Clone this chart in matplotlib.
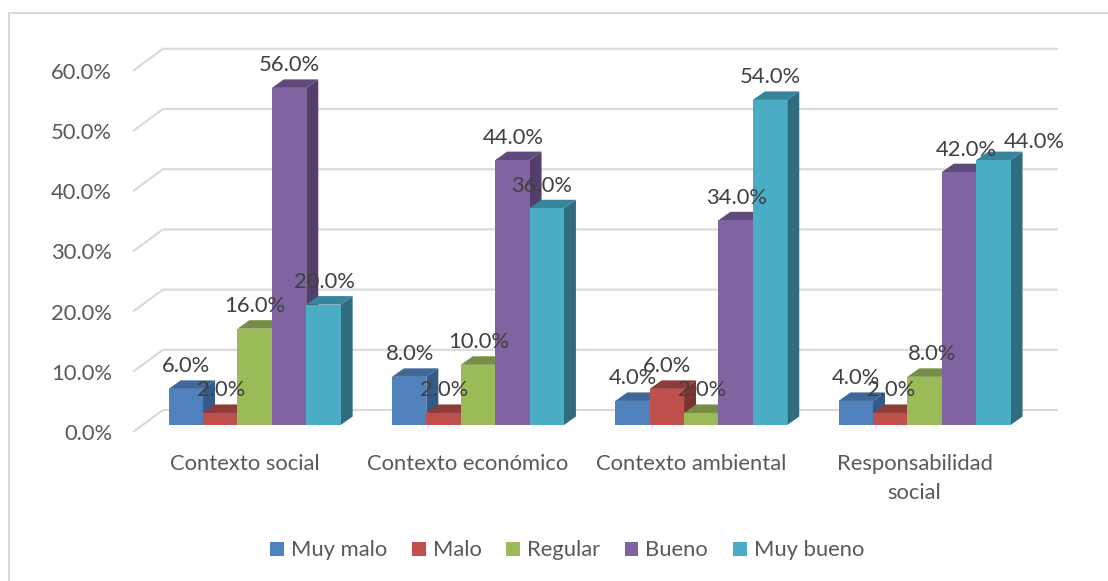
import numpy as np
import matplotlib
matplotlib.use('Agg')
import matplotlib.pyplot as plt
from matplotlib.lines import Line2D

# values (percent)
categories = ['Contexto social', 'Contexto económico', 'Contexto ambiental', 'Responsabilidad\nsocial']
series_names = ['Muy malo', 'Malo', 'Regular', 'Bueno', 'Muy bueno']
muy_malo = [6, 8, 4, 4]
malo = [2, 2, 6, 2]
regular = [16, 10, 2, 8]
bueno = [56, 44, 34, 42]
muy_bueno = [20, 36, 54, 44]
y_ticks = [0, 10, 20, 30, 40, 50, 60]

front_colors = ['#4f81bd', '#c0504d', '#9bbb59', '#8064a2', '#4bacc6']
top_colors = ['#3f6797', '#8e3b39', '#768e43', '#604a7b', '#38849b']
side_colors = ['#335a88', '#7d3331', '#66793a', '#533f6c', '#2f6c7e']

# labels that were dragged by hand in the original: (series, category) -> pixels
label_nudge = {(4, 1): (-6, 0), (3, 3): (7, 0), (2, 3): (7, 0), (4, 3): (40, 4)}

W, H = 1108, 581
plt.rcParams['font.family'] = ['Lato', 'DejaVu Sans']
fs = 15.8
fig = plt.figure(figsize=(W / 100, H / 100), dpi=100)

# axes = floor front edge of the fake 3d box
left, right, bottom, top = 133, 1058, 432, 46.7
ax = fig.add_axes([left / W, 1 - bottom / H, (right - left) / W, (bottom - top) / H])
px_x = 1 / 223.3
px_y = 1 / 6.02
ax.set_xlim(-0.5, -0.5 + (right - left) * px_x)
ax.set_ylim(0, (bottom - top) * px_y)
for s in ax.spines.values():
    s.set_visible(False)
ax.patch.set_visible(False)

# back wall grid lines
grid_c = '#d9d9d9'
for v in y_ticks:
    ax.plot([-0.5, -0.5 + 30 * px_x, -0.5 + (right - left) * px_x],
            [v, v + 22 * px_y, v + 22 * px_y],
            color=grid_c, lw=1.5, zorder=1, clip_on=False, solid_capstyle='butt')

# fake 3d bars
all_series = [muy_malo, malo, regular, bueno, muy_bueno]
bar_w = 34.4 * px_x
base = 7 * px_y          # bars stand a bit behind the floor edge
x0 = -2 * bar_w + 10 * px_x
dx = 12 * px_x
dy = 8.5 * px_y
handles = []
z = 3
for i, vals in enumerate(all_series):
    xs = np.arange(len(vals)) + x0 + i * bar_w
    for x, v in zip(xs, vals):
        l, r = x - bar_w / 2, x + bar_w / 2
        t = base + v
        ax.fill([r, r + dx, r + dx, r], [base, base + dy, t + dy, t], color=side_colors[i], lw=0, zorder=z)
        ax.fill([l, l + dx, r + dx, r], [t, t + dy, t + dy, t], color=top_colors[i], lw=0, zorder=z)
    bars = ax.bar(xs, vals, bar_w, bottom=base, color=front_colors[i], lw=0, zorder=z + 0.5, label=series_names[i])
    handles.append(bars)
    z += 1

# data labels on top of everything
for i, vals in enumerate(all_series):
    xs = np.arange(len(vals)) + x0 + i * bar_w
    for j, (x, v) in enumerate(zip(xs, vals)):
        nx, ny = label_nudge.get((i, j), (0, 0))
        ax.annotate('%.1f%%' % v, (x, base + v), xytext=((0.5 + nx) * 0.72, (22.5 - ny) * 0.72),
                    textcoords='offset points', ha='center', va='center', fontsize=fs,
                    color='#404040', zorder=20)

ax.set_yticks(y_ticks)
ax.set_yticklabels(['%.1f%%' % v for v in y_ticks], fontsize=fs, color='#595959')
ax.set_xticks(range(len(categories)))
ax.set_xticklabels(categories, fontsize=fs, color='#595959', linespacing=1.57)
for lab in ax.get_xticklabels():
    lab.set_x(lab.get_position()[0])
ax.tick_params(axis='y', length=0, pad=15)
ax.tick_params(axis='x', length=0, pad=16)

leg = ax.legend(handles=handles, loc='center', bbox_to_anchor=(567 / W, 1 - 550.5 / H),
                bbox_transform=fig.transFigure, ncol=5, frameon=False, fontsize=fs,
                handlelength=0.63, handleheight=0.63, handletextpad=0.32, columnspacing=1.12,
                labelcolor='#595959')

# chart border, only left and top show in the crop
fig.add_artist(Line2D([8.5 / W, 8.5 / W, 1], [0, 1 - 12.5 / H, 1 - 12.5 / H], color=grid_c, lw=1.4))

fig.savefig('out.png', dpi=100)
